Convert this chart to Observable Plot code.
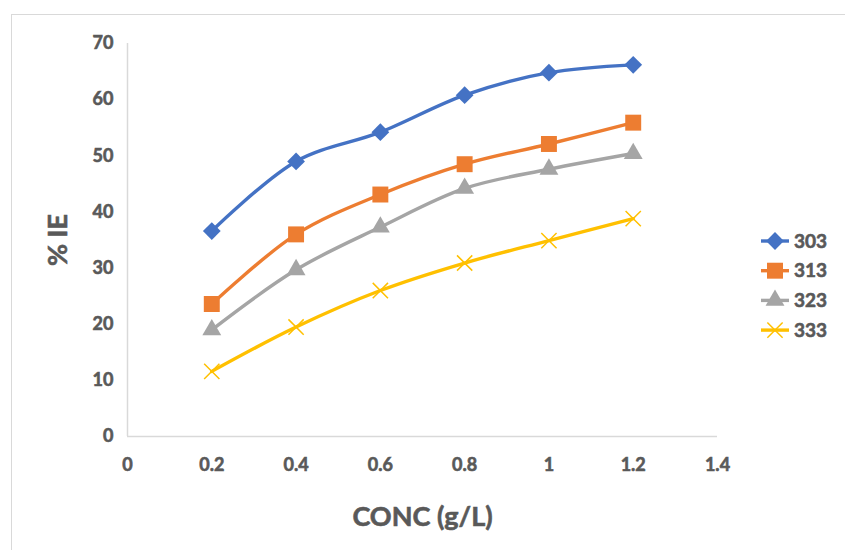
<!DOCTYPE html>
<html>
<head>
<meta charset="utf-8">
<script src="https://cdn.jsdelivr.net/npm/d3@7"></script>
<script src="https://cdn.jsdelivr.net/npm/@observablehq/plot@0.6"></script>
<style>
  html, body { margin: 0; padding: 0; background: #fff; overflow: hidden; }
  #wrap { position: relative; width: 845px; height: 550px; overflow: hidden; font-family: Lato, "Open Sans", sans-serif; }
  #border { position: absolute; left: 11px; top: 14px; width: 900px; height: 600px; border: 1.5px solid #d9d9d9; box-sizing: border-box; }
  #chart { position: absolute; left: 0; top: 0; }
  #legend { position: absolute; left: 756px; top: 226px; }
  text.heavy { paint-order: stroke; stroke: #595959; stroke-width: 0.6px; }
</style>
</head>
<body>
<div id="wrap">
  <div id="border"></div>
  <div id="chart"></div>
  <div id="legend"></div>
</div>
<script>
// ---- data ----
const conc = [0.2, 0.4, 0.6, 0.8, 1.0, 1.2];
const temps = ["303", "313", "323", "333"];
const ie303 = [36.6, 49.0, 54.2, 60.8, 64.8, 66.2];
const ie313 = [23.6, 36.0, 43.1, 48.5, 52.1, 55.9];
const ie323 = [19.0, 29.7, 37.3, 44.2, 47.6, 50.4];
const ie333 = [11.6, 19.5, 26.0, 30.9, 34.9, 38.8];
const xTicks = [0, 0.2, 0.4, 0.6, 0.8, 1, 1.2, 1.4];
const yTicks = [0, 10, 20, 30, 40, 50, 60, 70];

const series = [ie303, ie313, ie323, ie333];
const colors = ["#4472C4", "#ED7D31", "#A5A5A5", "#FFC000"];
const symbols = ["diamond2", "square", "triangle", "times"];
const symbolR = [8, 9, 7, 7];

const data = temps.flatMap((t, i) => conc.map((c, j) => ({conc: c, ie: series[i][j], temp: t})));

const textColor = "#595959";
const axisColor = "#d9d9d9";

const marks = [
  Plot.ruleY([0], {stroke: axisColor, strokeWidth: 1.5}),
  Plot.ruleX([0], {stroke: axisColor, strokeWidth: 1.5}),
  Plot.axisX({ticks: xTicks, tickSize: 0, tickPadding: 22, tickFormat: d => String(d),
    fill: textColor, fontSize: 18, fontWeight: "bold",
    label: "CONC (g/L)", labelAnchor: "center", labelArrow: "none", labelOffset: 89}),
  Plot.axisY({ticks: yTicks, tickSize: 0, tickPadding: 14, tickFormat: d => String(d),
    fill: textColor, fontSize: 18, fontWeight: "bold",
    label: "% IE", labelAnchor: "center", labelArrow: "none", labelOffset: 80}),
  Plot.line(data, {x: "conc", y: "ie", z: "temp", stroke: "temp", strokeWidth: 3.4, curve: "catmull-rom"})
];
temps.forEach((t, i) => {
  const sub = data.filter(d => d.temp === t);
  if (symbols[i] === "times") {
    marks.push(Plot.dot(sub, {x: "conc", y: "ie", symbol: symbols[i], r: symbolR[i], stroke: colors[i], strokeWidth: 1.5, fill: "none"}));
  } else {
    marks.push(Plot.dot(sub, {x: "conc", y: "ie", symbol: symbols[i], r: symbolR[i], fill: colors[i], stroke: "none"}));
  }
});

const chart = Plot.plot({
  width: 845,
  height: 550,
  marginLeft: 127,
  marginRight: 128,
  marginTop: 43,
  marginBottom: 114,
  style: {background: "transparent", fontFamily: "Lato, 'Open Sans', sans-serif"},
  x: {domain: [0, 1.4]},
  y: {domain: [0, 70]},
  color: {domain: temps, range: colors},
  marks
});
document.getElementById("chart").appendChild(chart);

// style axis text
d3.select(chart).selectAll("g[aria-label='x-axis tick label'] text, g[aria-label='y-axis tick label'] text")
  .attr("class", "heavy");
d3.select(chart).selectAll("g[aria-label='x-axis label'] text, g[aria-label='y-axis label'] text")
  .attr("font-size", 27).attr("font-weight", "bold").attr("fill", textColor).attr("class", "heavy");

// ---- legend ----
const lg = d3.select("#legend").append("svg").attr("width", 89).attr("height", 120)
  .style("font-family", "Lato, 'Open Sans', sans-serif");
const symMap = {diamond2: d3.symbolDiamond2, square: d3.symbolSquare, triangle: d3.symbolTriangle, times: d3.symbolTimes};
temps.forEach((t, i) => {
  const y = 15 + i * 29.7;
  const g = lg.append("g").attr("transform", `translate(0,${y})`);
  g.append("line").attr("x1", 5).attr("x2", 33).attr("y1", 0).attr("y2", 0)
    .attr("stroke", colors[i]).attr("stroke-width", 3.4);
  const size = Math.PI * symbolR[i] * symbolR[i];
  const p = g.append("path").attr("transform", "translate(19,0)")
    .attr("d", d3.symbol(symMap[symbols[i]], size)());
  if (symbols[i] === "times") p.attr("fill", "none").attr("stroke", colors[i]).attr("stroke-width", 1.5);
  else p.attr("fill", colors[i]);
  g.append("text").attr("x", 38).attr("y", 0).attr("dy", "0.35em").attr("class", "heavy")
    .attr("font-size", 19).attr("font-weight", "bold").attr("fill", textColor).text(t);
});
</script>
</body>
</html>
